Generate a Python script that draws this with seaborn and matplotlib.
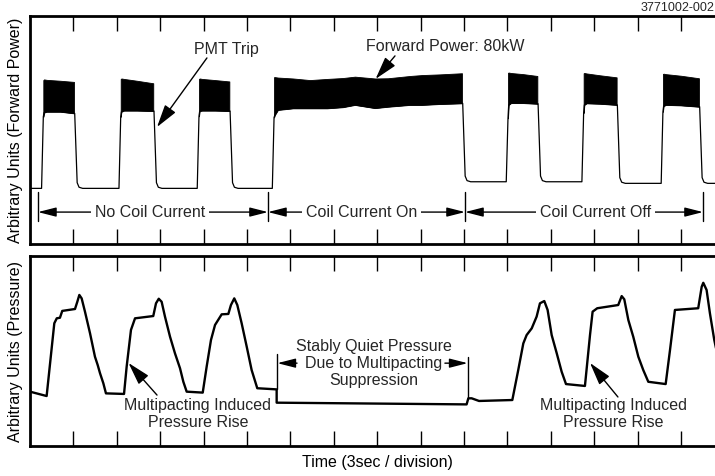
import matplotlib
matplotlib.use("Agg")
import matplotlib.pyplot as plt
import numpy as np
import pandas as pd
import seaborn as sns

sns.set_theme(style="white")
plt.rcParams["font.family"] = ["Liberation Sans", "DejaVu Sans"]

# ---------------- data ----------------
SEC_PER_DIV = 3
N_DIV = 16
div_ticks = [SEC_PER_DIV * k for k in range(1, N_DIV)]

# Forward power (arbitrary units): level of the trace between RF pulses
fp_baseline = [24.4, 24.4, 24.4, 24.4, 27.3, 27.3, 26.6, 26.6]

# Envelope of the RF ripple during each pulse: time (s), upper and lower edge
fp_env_t = [
    [0.92, 0.97, 1.15, 2.10, 3.04],
    [6.27, 6.32, 6.50, 7.40, 8.52],
    [11.68, 11.73, 11.90, 12.80, 13.78],
    [16.87, 16.93, 17.14, 18.18, 19.35, 20.53, 21.63, 22.46, 23.85, 24.74,
     26.27, 27.10, 28.34, 29.86],
    [33.04, 33.09, 33.25, 34.10, 35.07],
    [38.27, 38.32, 38.48, 39.40, 40.55],
    [43.75, 43.80, 43.96, 45.00, 46.24],
]
fp_env_hi = [
    [71.9, 72.2, 72.0, 71.6, 71.1],
    [72.4, 72.6, 72.4, 71.6, 70.5],
    [72.4, 72.6, 72.4, 71.9, 71.3],
    [73.2, 73.2, 73.0, 72.6, 71.9, 72.4, 72.8, 73.4, 72.6, 72.7,
     73.7, 74.1, 74.4, 74.9],
    [75.1, 75.2, 75.0, 74.5, 73.7],
    [74.9, 75.0, 74.8, 74.0, 73.1],
    [74.6, 74.7, 74.5, 73.8, 72.7],
]
fp_env_lo = [
    [55.8, 57.6, 58.0, 58.0, 57.3],
    [55.8, 58.0, 58.5, 58.5, 58.3],
    [56.0, 58.3, 58.5, 58.5, 58.3],
    [55.5, 56.6, 58.8, 59.5, 59.5, 59.5, 60.0, 61.0, 59.6, 60.2,
     61.0, 61.0, 61.4, 61.7],
    [55.1, 61.0, 61.8, 61.8, 61.5],
    [57.5, 61.0, 61.7, 61.5, 61.0],
    [58.0, 60.5, 61.0, 60.8, 60.2],
]

# Pressure (arbitrary units)
pr_t = [0.00, 1.15, 1.68, 1.85, 2.07, 2.23, 3.11, 3.27, 3.41, 3.57, 3.80, 4.15,
        4.49, 4.68, 4.84, 5.07, 5.25, 6.50, 6.68, 6.98, 7.26, 8.52, 8.71, 8.90,
        9.10, 9.33, 9.68, 10.02, 10.37, 10.60, 10.83, 11.94, 12.21, 12.51, 12.79,
        13.25, 13.71, 13.89, 14.12, 14.33, 14.63, 14.98, 15.32, 15.71, 17.05,
        17.05, 30.18, 30.30, 30.53, 31.04, 33.34, 33.75, 34.10, 34.33, 34.68,
        35.02, 35.25, 35.55, 35.78, 36.06, 36.41, 36.75, 37.05, 38.36, 38.71,
        38.89, 39.21, 40.66, 40.90, 41.08, 41.36, 41.70, 42.05, 42.39, 42.74,
        43.94, 44.24, 44.58, 46.19, 46.43, 46.54, 46.77, 47.00, 47.30, 47.60]
pr_v = [28.6, 26.3, 64.6, 67.2, 67.5, 71.1, 72.1, 75.9, 79.5, 77.7, 70.7, 59.3,
        47.0, 42.6, 38.3, 33.0, 27.7, 27.4, 41.7, 61.1, 67.2, 68.4, 75.1, 77.5,
        75.9, 68.1, 57.5, 48.8, 40.9, 33.8, 28.6, 28.1, 41.7, 55.8, 63.7,
        69.3, 69.5, 74.2, 77.7, 74.2, 64.6, 52.3, 40.0, 30.4, 29.8,
        22.8, 21.9, 25.1, 25.1, 23.7, 24.2, 40.0, 54.0, 58.4, 61.9,
        68.1, 75.1, 76.3, 71.6, 58.4, 48.8, 39.1, 32.6, 31.6, 58.4,
        70.7, 72.5, 74.2, 78.9, 77.2, 66.3, 57.5, 47.0, 40.0, 33.8,
        32.6, 50.5, 71.6, 72.5, 83.8, 85.9, 82.1, 69.8, 55.8, 45.0]

# Coil-current intervals (s) marked under the forward power trace
span_edges = [0.55, 16.45, 30.07, 46.52]
span_labels = ["No Coil Current", "Coil Current On", "Coil Current Off"]
span_label_t = [8.29, 22.91, 39.12]

# ---------------- build forward power trace ----------------
tr_t, tr_v = [0.0], [fp_baseline[0]]
for k, (et, lo) in enumerate(zip(fp_env_t, fp_env_lo)):
    b = fp_baseline[k + 1]
    tr_t += [et[0] - 0.12] + list(et)
    tr_v += [fp_baseline[k]] + list(lo)
    tr_t += [et[-1] + 0.05, et[-1] + 0.22, et[-1] + 0.35, et[-1] + 0.6]
    tr_v += [lo[-1], b + 2.5, b + 0.5, b]
tr_t.append(SEC_PER_DIV * N_DIV)
tr_v.append(fp_baseline[-1])
fp_df = pd.DataFrame({"t": tr_t, "v": tr_v})
pr_df = pd.DataFrame({"t": pr_t, "v": pr_v})

# ---------------- figure ----------------
W, H = 715, 476
fig = plt.figure(figsize=(W / 100, H / 100), dpi=100)
fig.patch.set_facecolor("white")
ax1 = fig.add_axes([30 / W, 1 - 244 / H, 694.4 / W, 228 / H])
ax2 = fig.add_axes([30 / W, 1 - 446 / H, 694.4 / W, 190 / H])

FS = 11.5
for ax in (ax1, ax2):
    ax.set_xlim(0, SEC_PER_DIV * N_DIV)
    ax.set_ylim(0, 100)
    ax.set_facecolor("white")
    ax.set_xticks(div_ticks)
    ax.set_yticks([])
    ax.tick_params(axis="x", direction="in", length=10.8, width=1.0,
                   color="black", top=True, bottom=True,
                   labelbottom=False, labeltop=False)
    for sp in ax.spines.values():
        sp.set_visible(True)
        sp.set_color("black")
        sp.set_linewidth(2.0)

# forward power trace
for et, hi, lo in zip(fp_env_t, fp_env_hi, fp_env_lo):
    ax1.fill_between(et, lo, hi, color="black", lw=0.6)
sns.lineplot(data=fp_df, x="t", y="v", ax=ax1, estimator=None, sort=False,
             color="black", lw=0.9)

# pressure trace
sns.lineplot(data=pr_df, x="t", y="v", ax=ax2, estimator=None, sort=False,
             color="black", lw=1.7)

for ax in (ax1, ax2):
    ax.set_xlabel("")
    ax.set_ylabel("")

# axis titles
fig.text(16 / W, 1 - 130 / H, "Arbitrary Units (Forward Power)", fontsize=FS,
         rotation=90, ha="center", va="center", color="black")
fig.text(16 / W, 1 - 351 / H, "Arbitrary Units (Pressure)", fontsize=FS,
         rotation=90, ha="center", va="center", color="black")
fig.text(377 / W, 1 - 462 / H, "Time (3sec / division)", fontsize=FS,
         ha="center", va="center", color="black")

span_arrow = dict(arrowstyle="<|-|>,head_length=1.1,head_width=0.28",
                  color="black", lw=1.0, shrinkA=0, shrinkB=0,
                  mutation_scale=10)
one_arrow = dict(arrowstyle="-|>,head_length=1.1,head_width=0.28",
                 color="black", lw=1.0, shrinkA=0, shrinkB=0,
                 mutation_scale=10)
ptr_arrow = dict(arrowstyle="-|>,head_length=1.4,head_width=0.4",
                 color="black", lw=1.0, shrinkA=0, shrinkB=0,
                 mutation_scale=10)

# coil current spans
for x in span_edges:
    ax1.plot([x, x], [10, 23], color="black", lw=1.0)
for i, lab in enumerate(span_labels):
    ax1.annotate("", xy=(span_edges[i], 14), xytext=(span_edges[i + 1], 14),
                 arrowprops=span_arrow)
    ax1.text(span_label_t[i], 14, lab, fontsize=FS, ha="center", va="center",
             bbox=dict(boxstyle="square,pad=0.25", fc="white", ec="none"))

ax1.text(13.55, 85.1, "PMT Trip", fontsize=FS, ha="center", va="center")
ax1.annotate("", xy=(8.78, 51.3), xytext=(12.23, 81.6), arrowprops=ptr_arrow)
ax1.text(28.69, 86.8, "Forward Power: 80kW", fontsize=FS, ha="center",
         va="center")
ax1.annotate("", xy=(23.89, 72.4), xytext=(25.23, 82.5), arrowprops=ptr_arrow)

# pressure annotations
for cx, tail, head in [(11.61, (8.78, 26.8), (6.81, 43.7)),
                       (40.30, (40.64, 25.8), (38.71, 43.7))]:
    ax2.text(cx, 16.8, "Multipacting Induced\nPressure Rise", fontsize=FS,
             ha="center", va="center", linespacing=1.15)
    ax2.annotate("", xy=head, xytext=tail, arrowprops=ptr_arrow)

ax2.text(23.74, 43.4, "Stably Quiet Pressure\nDue to Multipacting\nSuppression",
         fontsize=FS, ha="center", va="center", linespacing=1.2)
ax2.plot([17.05, 17.05], [29.8, 48.4], color="black", lw=1.0)
ax2.plot([30.30, 30.30], [25.1, 46.8], color="black", lw=1.0)
ax2.annotate("", xy=(17.10, 43.6), xytext=(18.46, 43.6), arrowprops=one_arrow)
ax2.annotate("", xy=(30.25, 43.6), xytext=(28.68, 43.6), arrowprops=one_arrow)

fig.text(714 / W, 1 - 8 / H, "3771002-002", fontsize=9, ha="right", va="center")

fig.savefig("out.png", dpi=100, facecolor="white")
